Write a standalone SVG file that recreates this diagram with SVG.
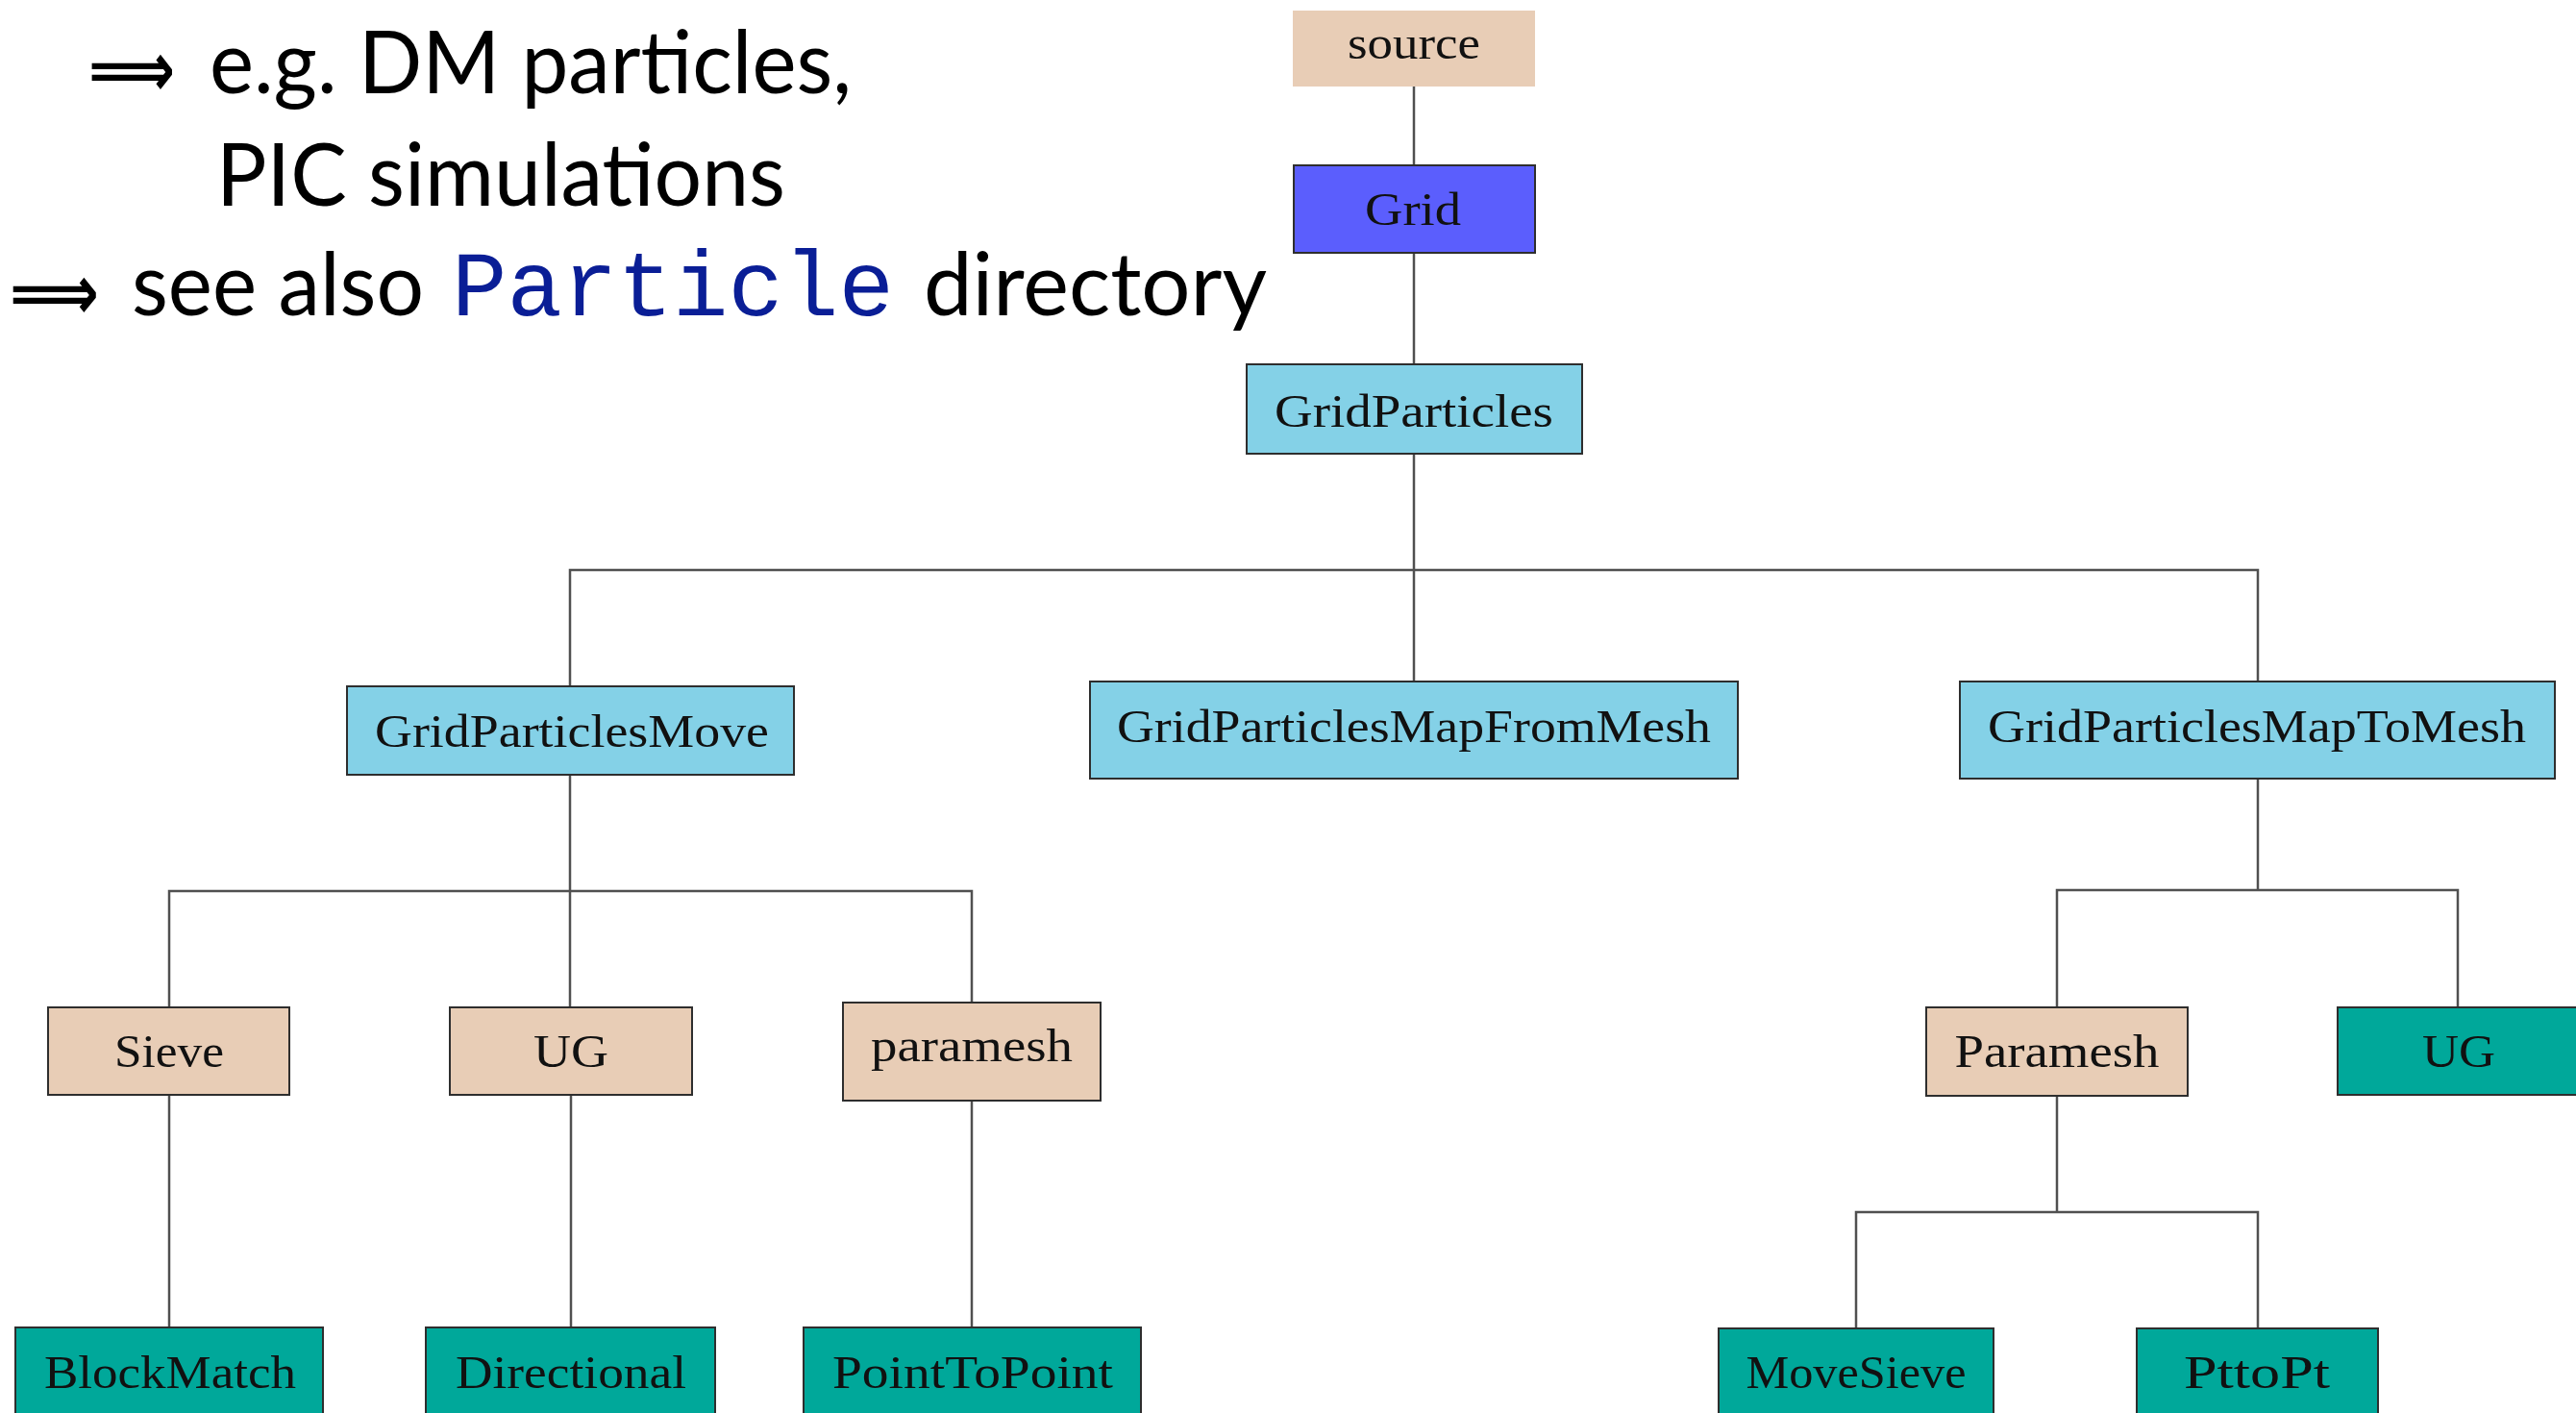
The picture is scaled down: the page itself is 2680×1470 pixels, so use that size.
<svg xmlns="http://www.w3.org/2000/svg" width="2680" height="1470" viewBox="0 0 2680 1470">
<style>
.bg{fill:#ffffff}
.conn{stroke:#505050;stroke-width:2.5;fill:none}
.box{stroke:#2e2e2e;stroke-width:2}
.tan{fill:#e8cdb6}
.blue{fill:#5b5efd}
.lb{fill:#84d1e7}
.teal{fill:#00a89a}
.lbl{font-family:"Liberation Serif","DejaVu Serif",serif;font-size:48px;fill:#111;text-anchor:middle}
.slide{font-family:Lato,"Open Sans","Liberation Sans",sans-serif;font-size:92px;fill:#000}
.arr{font-family:"DejaVu Sans","Noto Sans",sans-serif;font-size:80px;font-weight:bold;fill:#000}
.mono{font-family:"Liberation Mono","DejaVu Sans Mono",monospace;font-size:96px;fill:#0a1e96}
</style>
<rect class="bg" x="0" y="0" width="2680" height="1470"/>

<g id="slide-text">
<text class="arr" x="92" y="100" textLength="90" lengthAdjust="spacingAndGlyphs">⟹</text>
<text class="slide" x="218" y="97" textLength="668" lengthAdjust="spacingAndGlyphs">e.g. DM particles,</text>
<text class="slide" x="225" y="214" textLength="592" lengthAdjust="spacingAndGlyphs">PIC simulations</text>
<text class="arr" x="10" y="332" textLength="93" lengthAdjust="spacingAndGlyphs">⟹</text>
<text class="slide" x="137" y="328" textLength="304" lengthAdjust="spacingAndGlyphs">see also</text>
<text class="mono" x="470" y="328" textLength="460" lengthAdjust="spacingAndGlyphs">Particle</text>
<text class="slide" x="961" y="328" textLength="357" lengthAdjust="spacingAndGlyphs">directory</text>
</g>

<g id="connectors">
<path class="conn" d="M1471 90V172"/>
<path class="conn" d="M1471 263V379"/>
<path class="conn" d="M1471 472V709"/>
<path class="conn" d="M593 714V593H2349V709"/>
<path class="conn" d="M593 806V1048"/>
<path class="conn" d="M176 1048V927H1011V1043"/>
<path class="conn" d="M176 1139V1381"/>
<path class="conn" d="M594 1139V1381"/>
<path class="conn" d="M1011 1145V1381"/>
<path class="conn" d="M2349 810V926"/>
<path class="conn" d="M2140 1048V926H2557V1048"/>
<path class="conn" d="M2140 1140V1261"/>
<path class="conn" d="M1931 1382V1261H2349V1382"/>
</g>

<g id="node-source">
<rect class="tan" x="1345" y="11" width="252" height="79"/>
<text class="lbl" x="1471" y="61" textLength="138" lengthAdjust="spacingAndGlyphs">source</text>
</g>
<g id="node-grid">
<rect class="box blue" x="1346" y="172" width="251" height="91"/>
<text class="lbl" x="1470" y="234" textLength="100" lengthAdjust="spacingAndGlyphs">Grid</text>
</g>
<g id="node-gridparticles">
<rect class="box lb" x="1297" y="379" width="349" height="93"/>
<text class="lbl" x="1471" y="444" textLength="290" lengthAdjust="spacingAndGlyphs">GridParticles</text>
</g>
<g id="node-gpmove">
<rect class="box lb" x="361" y="714" width="465" height="92"/>
<text class="lbl" x="595" y="777" textLength="410" lengthAdjust="spacingAndGlyphs">GridParticlesMove</text>
</g>
<g id="node-gpmapfrommesh">
<rect class="box lb" x="1134" y="709" width="674" height="101"/>
<text class="lbl" x="1471" y="772" textLength="618" lengthAdjust="spacingAndGlyphs">GridParticlesMapFromMesh</text>
</g>
<g id="node-gpmaptomesh">
<rect class="box lb" x="2039" y="709" width="619" height="101"/>
<text class="lbl" x="2348" y="772" textLength="560" lengthAdjust="spacingAndGlyphs">GridParticlesMapToMesh</text>
</g>
<g id="node-sieve">
<rect class="box tan" x="50" y="1048" width="251" height="91"/>
<text class="lbl" x="176" y="1110" textLength="114" lengthAdjust="spacingAndGlyphs">Sieve</text>
</g>
<g id="node-ug-move">
<rect class="box tan" x="468" y="1048" width="252" height="91"/>
<text class="lbl" x="594" y="1110" textLength="78" lengthAdjust="spacingAndGlyphs">UG</text>
</g>
<g id="node-paramesh-move">
<rect class="box tan" x="877" y="1043" width="268" height="102"/>
<text class="lbl" x="1011" y="1104" textLength="210" lengthAdjust="spacingAndGlyphs">paramesh</text>
</g>
<g id="node-paramesh-map">
<rect class="box tan" x="2004" y="1048" width="272" height="92"/>
<text class="lbl" x="2140" y="1110" textLength="213" lengthAdjust="spacingAndGlyphs">Paramesh</text>
</g>
<g id="node-ug-map">
<rect class="box teal" x="2432" y="1048" width="252" height="91"/>
<text class="lbl" x="2558" y="1110" textLength="76" lengthAdjust="spacingAndGlyphs">UG</text>
</g>
<g id="node-blockmatch">
<rect class="box teal" x="16" y="1381" width="320" height="100"/>
<text class="lbl" x="177" y="1444" textLength="262" lengthAdjust="spacingAndGlyphs">BlockMatch</text>
</g>
<g id="node-directional">
<rect class="box teal" x="443" y="1381" width="301" height="100"/>
<text class="lbl" x="594" y="1444" textLength="240" lengthAdjust="spacingAndGlyphs">Directional</text>
</g>
<g id="node-pointtopoint">
<rect class="box teal" x="836" y="1381" width="351" height="100"/>
<text class="lbl" x="1012" y="1444" textLength="292" lengthAdjust="spacingAndGlyphs">PointToPoint</text>
</g>
<g id="node-movesieve">
<rect class="box teal" x="1788" y="1382" width="286" height="100"/>
<text class="lbl" x="1931" y="1444" textLength="229" lengthAdjust="spacingAndGlyphs">MoveSieve</text>
</g>
<g id="node-pttopt">
<rect class="box teal" x="2223" y="1382" width="251" height="100"/>
<text class="lbl" x="2348" y="1444" textLength="152" lengthAdjust="spacingAndGlyphs">PttoPt</text>
</g>
</svg>
